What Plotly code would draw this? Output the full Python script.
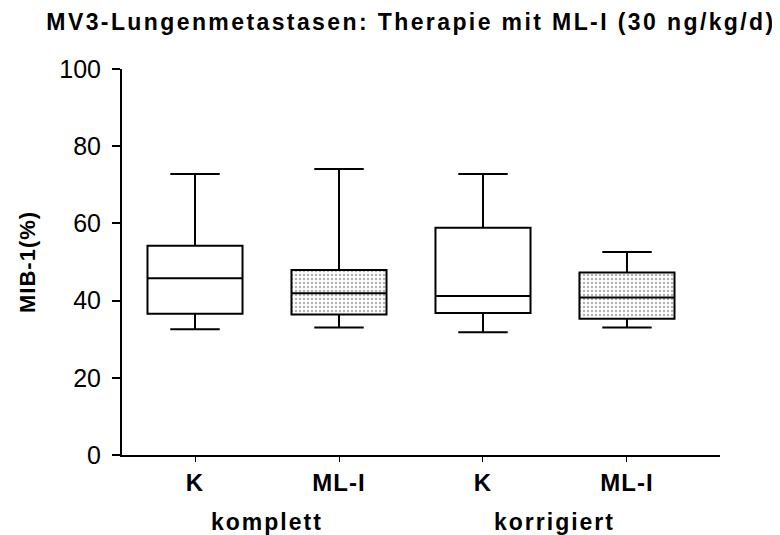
import plotly.graph_objects as go

categories = ["K", "ML-I", "K", "ML-I"]
groups = ["komplett", "korrigiert"]
lower = [32.6, 33.0, 31.8, 33.0]
q1 = [36.6, 36.4, 36.8, 35.3]
median = [45.8, 41.9, 41.2, 40.8]
q3 = [54.2, 47.9, 58.9, 47.3]
upper = [72.8, 74.1, 72.8, 52.6]
dotted = [False, True, False, True]
y_ticks = [0, 20, 40, 60, 80, 100]

pos = list(range(len(categories)))
FONT = "Liberation Sans, Arial, sans-serif"

# page has an 8px body margin: figure is 772x527 placed at (8, 8)
W, H = 772, 527
L, R, T, B = 114, 60, 61, 80
PH = H - T - B
PW = W - L - R

fig = go.Figure()

# dotted fill for ML-I boxes
dx = [p for p, d in zip(pos, dotted) if d]
fig.add_trace(go.Bar(
    x=dx,
    base=[q1[p] for p in dx],
    y=[q3[p] - q1[p] for p in dx],
    width=0.66,
    marker=dict(color="white", line=dict(width=0),
                pattern=dict(shape=".", fgcolor="#666", bgcolor="white", size=4, solidity=0.3)),
    hoverinfo="skip", showlegend=False,
))

fig.add_trace(go.Box(
    x=pos, q1=q1, median=median, q3=q3, lowerfence=lower, upperfence=upper,
    width=0.66, whiskerwidth=0.52, boxpoints=False,
    fillcolor="rgba(0,0,0,0)", line=dict(color="black", width=2),
    showlegend=False,
))

def spaced(t, px):
    return '<span style="letter-spacing:%spx"><b>%s</b></span>' % (px, t)

fig.update_layout(
    width=W, height=H,
    margin=dict(l=L, r=R, t=T, b=B),
    plot_bgcolor="white", paper_bgcolor="white",
    font=dict(family=FONT, color="black"),
    title=dict(text=spaced("MV3-Lungenmetastasen: Therapie mit ML-I (30 ng/kg/d)", 2.4),
               x=403 / W, xanchor="center", y=1 - 14 / H, yanchor="middle",
               font=dict(size=23, family=FONT)),
    xaxis=dict(range=[-0.507, 3.646], tickvals=pos,
               ticktext=[spaced(c, 1) for c in categories],
               showline=True, linecolor="black", linewidth=2,
               ticks="outside", ticklen=5, tickwidth=1, tickcolor="black",
               tickfont=dict(size=24), showgrid=False, zeroline=False),
    yaxis=dict(range=[0, 100], tickvals=y_ticks,
               showline=True, linecolor="black", linewidth=2,
               ticks="outside", ticklen=8, tickwidth=2, tickcolor="black",
               ticklabelstandoff=6,
               tickfont=dict(size=25), showgrid=False, zeroline=False),
)

fig.add_annotation(x=-95 / PW, xref="paper", y=0.5, yref="paper",
                   text=spaced("MIB-1(%)", 1), textangle=-90, showarrow=False,
                   xanchor="center", yanchor="middle", font=dict(size=22))

for i, g in enumerate(groups):
    fig.add_annotation(x=2 * i + 0.5, xref="x", y=-67 / PH, yref="paper",
                       text=spaced(g, 2), showarrow=False,
                       xanchor="center", yanchor="middle", font=dict(size=23))

fig.write_html("out.html")
